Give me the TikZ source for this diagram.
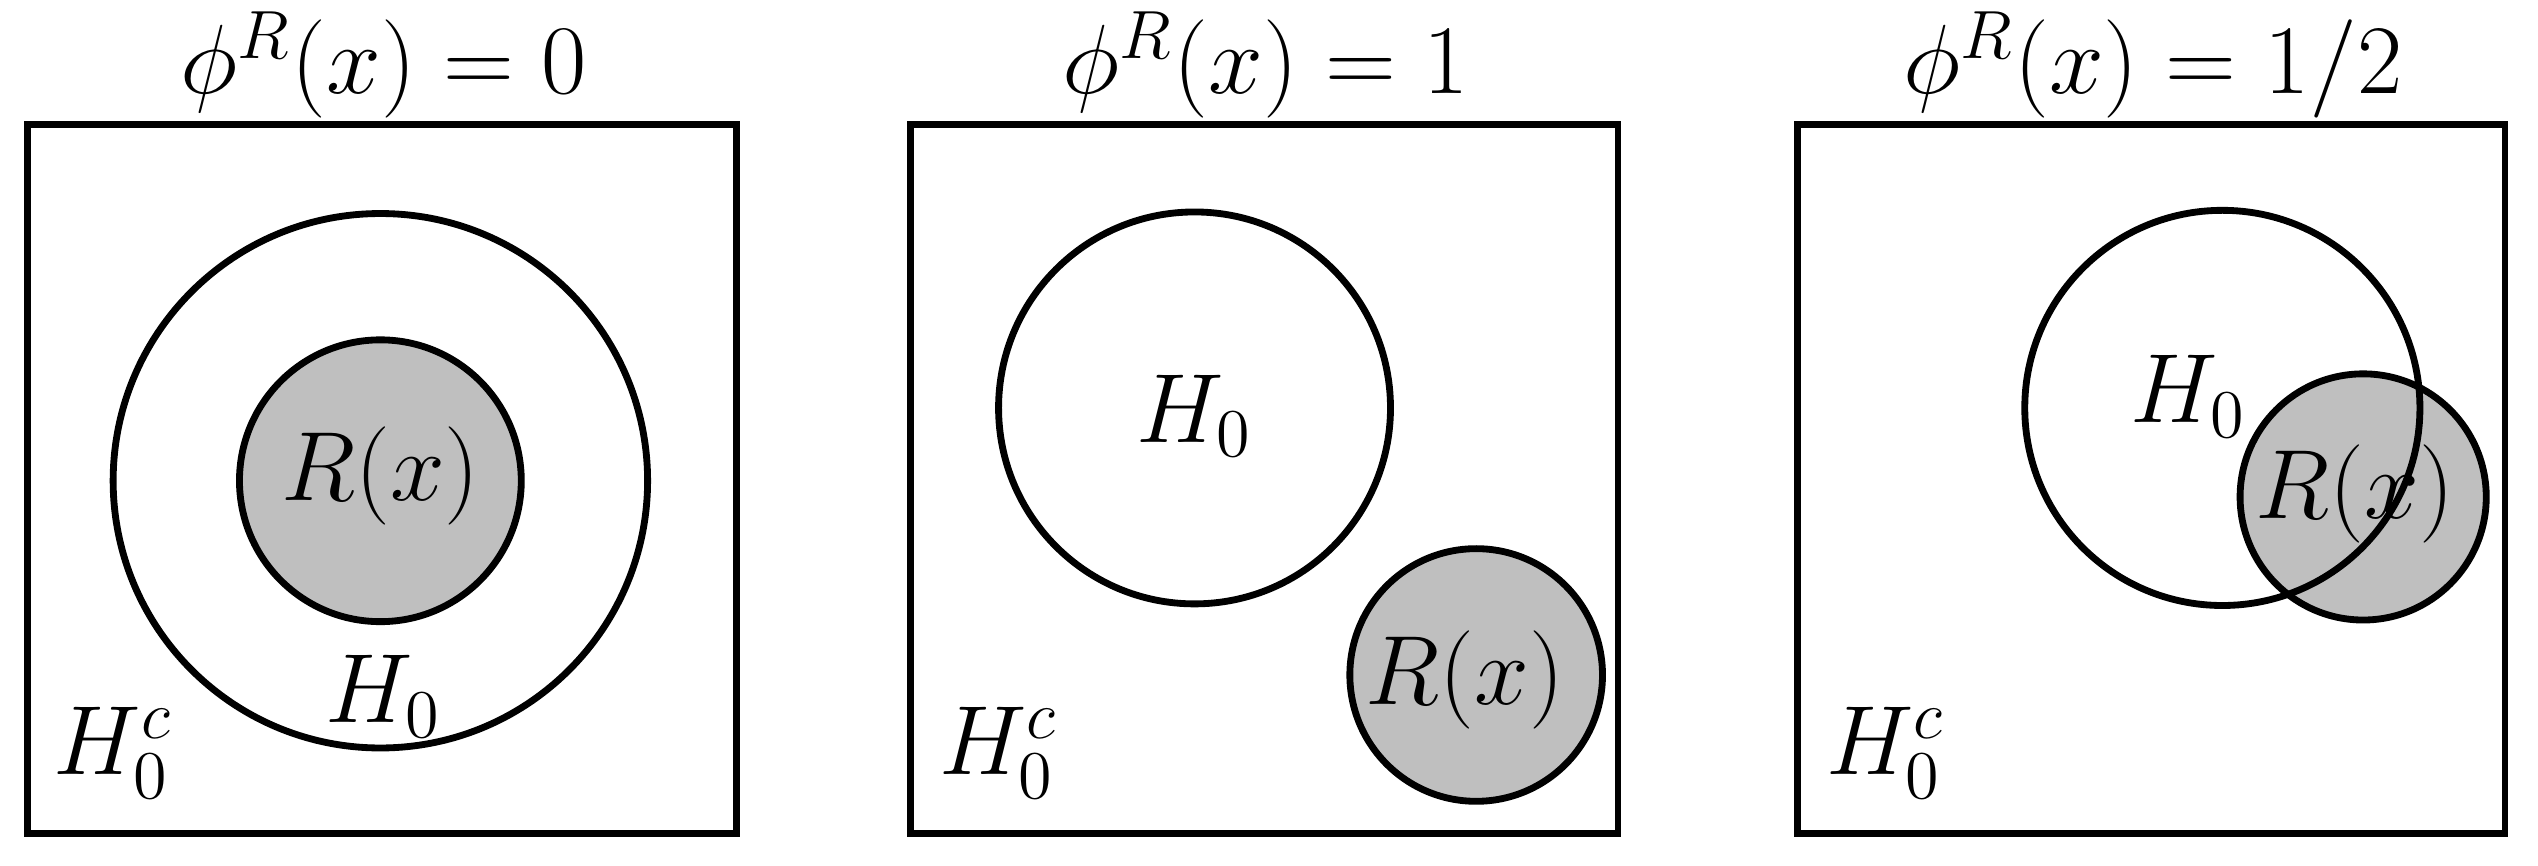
\documentclass[tikz,border=0pt]{standalone}
\begin{document}
\begin{tikzpicture}[x=0.01cm,y=-0.01cm,line width=1.2pt,
  box/.style={draw},
  hole/.style={draw,circle},
  reg/.style={draw,circle,fill=black!25},
  lab/.style={font=\fontsize{17}{20}\selectfont},
  ttl/.style={font=\fontsize{17}{20}\selectfont,anchor=base}]
\useasboundingbox (0,0) rectangle (1568,535);
% panel 1
\node[box,minimum width=4.38cm,minimum height=4.38cm] (b1) at (236,296) {};
\node[hole,minimum size=3.3cm] (h1) at (235,297) {};
\node[reg,minimum size=1.74cm] (r1) at (235,297) {};
\node[lab] (r1t) at (235,294) {$R(x)$};
\node[lab] (h1t) at (237,430) {$H_0$};
\node[lab] (c1) at (70,465) {$H_0^c$};
\node[ttl] (t1) at (237,58) {$\phi^R(x)=0$};
% panel 2
\node[box,minimum width=4.37cm,minimum height=4.38cm] (b2) at (781,296) {};
\node[hole,minimum size=2.42cm] (h2) at (738,252) {};
\node[reg,minimum size=1.56cm] (r2) at (912,417) {};
\node[lab] (h2t) at (738,257) {$H_0$};
\node[lab] (r2t) at (905,420) {$R(x)$};
\node[lab] (c2) at (617,465) {$H_0^c$};
\node[ttl] (t2) at (782,58) {$\phi^R(x)=1$};
% panel 3
\node[box,minimum width=4.37cm,minimum height=4.38cm] (b3) at (1329,296) {};
\node[reg,minimum size=1.52cm] (r3) at (1460,307) {};
\node[hole,minimum size=2.44cm] (h3) at (1373,252) {};
\node[lab] (h3t) at (1352,245) {$H_0$};
\node[lab] (r3t) at (1455,305) {$R(x)$};
\node[lab] (c3) at (1165,465) {$H_0^c$};
\node[ttl] (t3) at (1330,58) {$\phi^R(x)=1/2$};
\end{tikzpicture}
\end{document}
